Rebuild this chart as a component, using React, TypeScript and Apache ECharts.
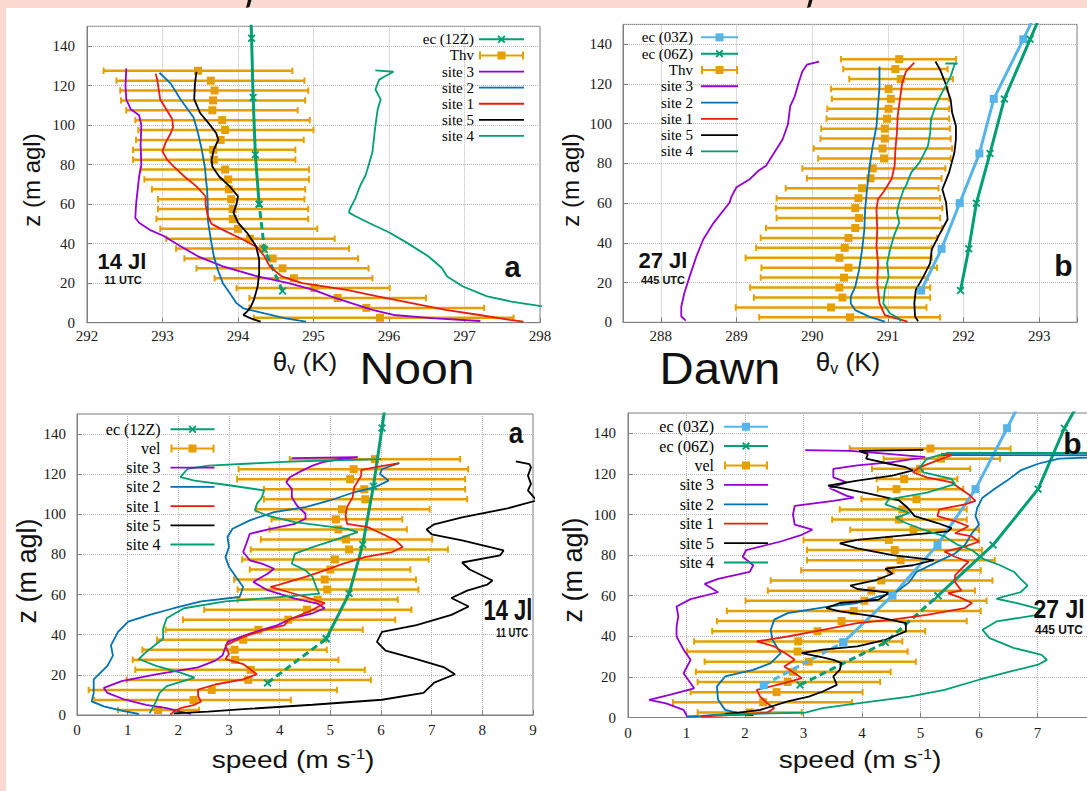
import React, { useEffect, useRef } from "react";
import * as echarts from "echarts";

// ---------------- DATA ----------------
// Each profile: [value, z (m agl)]
// Error-bar rows: [low, mean, high, z]

// Top-left: theta_v, noon (14 Jl)
const TL_EC12: [number, number][] = [[294.59, 16], [294.35, 37], [294.28, 60], [294.23, 85], [294.2, 114], [294.18, 144], [294.15, 177]];
const TL_THV: number[][] = [
  [292.22, 293.47, 294.72, 127.5], [292.39, 293.64, 294.88, 122.5], [292.44, 293.69, 294.93, 117.5],
  [292.45, 293.67, 294.89, 112.5], [292.52, 293.66, 294.79, 107.5], [292.64, 293.79, 294.95, 102.5],
  [292.68, 293.83, 295.0, 97.5], [292.65, 293.77, 294.87, 92.5], [292.61, 293.67, 294.76, 87.5],
  [292.61, 293.68, 294.76, 82.5], [292.71, 293.83, 294.94, 77.5], [292.76, 293.87, 294.94, 72.5],
  [292.86, 293.88, 294.89, 67.5], [292.94, 293.91, 294.88, 62.5], [292.94, 293.93, 294.93, 57.5],
  [292.92, 293.93, 294.93, 52.5], [292.97, 294.0, 295.05, 47.5], [293.05, 294.16, 295.28, 42.5],
  [293.18, 294.33, 295.47, 37.5], [293.29, 294.46, 295.59, 32.5], [293.45, 294.59, 295.73, 27.5],
  [293.69, 294.74, 295.78, 22.5], [293.98, 295.01, 296.01, 17.5], [294.15, 295.32, 296.49, 12.5],
  [294.15, 295.7, 297.26, 7.5], [294.21, 295.88, 297.65, 2.5],
];
const TL_SITE3: [number, number][] = [[292.52, 128.7], [292.51, 120], [292.52, 113], [292.58, 108], [292.69, 105], [292.72, 100], [292.71, 90], [292.72, 80], [292.69, 74], [292.67, 67], [292.65, 60], [292.64, 53], [292.69, 50.6], [292.83, 47], [293.01, 44], [293.24, 38.7], [293.47, 33.6], [293.8, 28.5], [294.26, 23.4], [294.67, 20], [295.0, 16.6], [295.23, 13.3], [295.5, 9.9], [295.78, 6.5], [296.06, 3.9], [296.61, 2.2], [297.21, 0.85]];
const TL_SITE2: [number, number][] = [[292.96, 126.5], [293.11, 121], [293.24, 113], [293.41, 104], [293.47, 96], [293.52, 87.6], [293.56, 79], [293.58, 71], [293.59, 67.6], [293.6, 60], [293.6, 52], [293.64, 42], [293.68, 33.6], [293.73, 27], [293.8, 20], [293.89, 15], [293.98, 9.9], [294.07, 7.3], [294.35, 4.7], [294.63, 2.2], [294.9, 0.5]];
const TL_SITE1: [number, number][] = [[292.91, 126], [292.93, 123], [292.97, 113], [293.05, 108], [293.13, 103], [293.14, 99], [293.11, 96], [293.04, 91], [293.0, 86.7], [293.06, 82.5], [293.15, 79], [293.29, 74], [293.45, 69], [293.57, 64], [293.57, 60], [293.6, 54], [293.65, 50], [293.8, 47], [294.07, 42], [294.26, 38], [294.35, 33.6], [294.42, 28.5], [294.58, 23.4], [294.85, 20], [295.44, 16.6], [295.85, 13.3], [296.3, 9.9], [296.75, 6.5], [297.2, 3.9], [297.6, 1.4], [297.78, 0.5]];
const TL_SITE5: [number, number][] = [[293.45, 127], [293.43, 121], [293.42, 113], [293.5, 106], [293.61, 101], [293.71, 96], [293.74, 92.6], [293.68, 87.6], [293.65, 82.5], [293.66, 79], [293.75, 74], [293.89, 69], [294.0, 64], [293.98, 60], [293.94, 55.7], [294.0, 50.6], [294.12, 45.5], [294.24, 38.7], [294.28, 32], [294.28, 25], [294.26, 18.3], [294.21, 11.5], [294.17, 8.1], [294.12, 5.6], [294.07, 3.9], [294.17, 2.2], [294.3, 0.5]];
const TL_SITE4: [number, number][] = [[295.82, 127.7], [296.06, 127], [295.96, 125], [295.87, 123], [295.82, 118], [295.89, 113], [295.85, 108], [295.82, 99.7], [295.78, 86.3], [295.73, 79.7], [295.69, 74.6], [295.62, 69.5], [295.55, 62.5], [295.48, 57.4], [295.47, 55.7], [295.55, 54], [295.73, 50.6], [296.01, 45.5], [296.24, 40.4], [296.52, 33.6], [296.7, 27.7], [296.77, 23.4], [296.98, 18.3], [297.3, 13.3], [297.62, 10.7], [297.99, 8.5], [298.4, 7.0]];

// Top-right: theta_v, dawn (27 Jl)
const TR_EC03: [number, number][] = [[291.44, 16], [291.71, 37], [291.95, 60], [292.21, 85], [292.4, 112.5], [292.79, 142.5], [293.2, 175]];
const TR_EC06: [number, number][] = [[291.96, 16], [292.07, 37], [292.17, 60], [292.35, 85], [292.54, 112.5], [292.88, 142.5], [293.25, 175]];
const TR_THV: number[][] = [
  [290.38, 291.15, 291.9, 132.5], [290.41, 291.1, 291.79, 127.5], [290.49, 291.17, 291.86, 122.5],
  [290.25, 291.01, 291.79, 117.5], [290.26, 291.04, 291.81, 112.5], [290.2, 291.01, 291.81, 107.5],
  [290.19, 290.99, 291.81, 102.5], [290.12, 290.96, 291.82, 97.5], [290.11, 290.96, 291.83, 92.5],
  [290.02, 290.93, 291.85, 87.5], [290.08, 290.95, 291.83, 82.5], [289.87, 290.8, 291.76, 77.5],
  [289.93, 290.77, 291.71, 72.5], [289.65, 290.66, 291.67, 67.5], [289.53, 290.61, 291.69, 62.5],
  [289.52, 290.57, 291.72, 57.5], [289.53, 290.62, 291.69, 52.5], [289.39, 290.57, 291.72, 47.5],
  [289.32, 290.48, 291.65, 42.5], [289.26, 290.43, 291.58, 37.5], [289.12, 290.36, 291.58, 32.5],
  [289.33, 290.48, 291.65, 27.5], [289.32, 290.42, 291.53, 22.5], [289.18, 290.36, 291.56, 17.5],
  [289.23, 290.4, 291.56, 12.5], [288.99, 290.25, 291.51, 7.5], [289.3, 290.5, 291.69, 2.5],
];
const TR_SITE3: [number, number][] = [[290.09, 131.3], [289.93, 129.7], [289.87, 126.3], [289.82, 120.5], [289.77, 113.8], [289.71, 108.8], [289.68, 99.7], [289.61, 92.2], [289.5, 85.5], [289.39, 78.8], [289.29, 76.3], [289.18, 72.2], [289.0, 68], [288.93, 63], [288.91, 60.3], [288.7, 50.2], [288.56, 41.7], [288.47, 33.2], [288.38, 23], [288.31, 14.6], [288.27, 7.8], [288.27, 2.9], [288.33, 0.85]];
const TR_SITE2: [number, number][] = [[290.89, 128.8], [290.89, 118.8], [290.87, 108.8], [290.85, 98.8], [290.8, 88.8], [290.76, 78.8], [290.73, 68.8], [290.7, 57], [290.69, 46.8], [290.66, 36.6], [290.62, 26.4], [290.57, 18], [290.51, 12.9], [290.51, 9.5], [290.57, 6.1], [290.76, 2.7], [290.96, 0.3]];
const TR_SITE1: [number, number][] = [[291.35, 130.8], [291.24, 126.3], [291.19, 120.5], [291.16, 112.2], [291.13, 103.8], [291.12, 95.5], [291.1, 87.2], [291.09, 78.8], [291.05, 72.2], [290.94, 65.5], [290.87, 62], [290.85, 57], [290.86, 46.8], [290.85, 38.3], [290.87, 29.8], [290.86, 19.7], [290.89, 9.5], [290.96, 3.6], [291.12, 1.9], [291.26, 0.3]];
const TR_SITE5: [number, number][] = [[291.63, 131.3], [291.69, 127.2], [291.76, 120.5], [291.8, 115.5], [291.83, 112.2], [291.85, 105.5], [291.9, 98.8], [291.9, 92.2], [291.88, 85.5], [291.81, 75.5], [291.74, 68.8], [291.72, 67], [291.77, 60.3], [291.79, 51.9], [291.67, 43.4], [291.58, 36.6], [291.56, 29.8], [291.47, 23], [291.37, 16.3], [291.35, 9.5], [291.36, 2.9], [291.4, 0.5]];
const TR_SITE4: [number, number][] = [[291.76, 130.3], [291.92, 130.3], [291.88, 129.7], [291.83, 123.8], [291.76, 118.8], [291.69, 113.8], [291.63, 108.8], [291.57, 102.2], [291.56, 95.5], [291.53, 88.8], [291.42, 80.5], [291.31, 75.5], [291.24, 68.8], [291.21, 67], [291.15, 60.3], [291.12, 55.3], [291.15, 50.2], [291.08, 43.4], [291.03, 36.6], [290.99, 29.8], [291.01, 23], [290.96, 16.3], [290.94, 9.5], [291.03, 4.4], [291.15, 1.9], [291.17, 0.5]];

// Bottom-left: wind speed, noon
const BL_EC12: [number, number][] = [[3.76, 16], [4.92, 38], [5.37, 60.5], [5.64, 85], [5.85, 114], [6.02, 143], [6.2, 175]];
const BL_VEL: number[][] = [
  [4.2, 5.88, 7.56, 127.5], [3.19, 5.46, 7.72, 122.5], [3.16, 5.39, 7.66, 117.5], [3.69, 5.67, 7.66, 112.5],
  [3.69, 5.69, 7.7, 107.5], [3.54, 5.23, 6.96, 102.5], [3.84, 5.11, 6.42, 97.5], [3.8, 5.16, 6.51, 92.5],
  [3.63, 5.31, 7.01, 87.5], [3.43, 5.37, 7.32, 82.5], [3.26, 5.09, 6.94, 77.5], [3.41, 5.0, 6.58, 72.5],
  [3.1, 4.89, 6.69, 67.5], [3.17, 4.94, 6.74, 62.5], [3.17, 4.75, 6.33, 57.5], [2.51, 4.54, 6.6, 52.5],
  [2.09, 4.17, 6.28, 47.5], [1.75, 3.58, 5.64, 42.5], [1.58, 3.28, 4.92, 37.5], [1.29, 3.11, 4.93, 32.5],
  [1.1, 3.12, 5.16, 27.5], [1.15, 3.43, 5.68, 22.5], [0.98, 3.38, 5.8, 17.5], [0.23, 2.66, 5.13, 12.5],
  [0.34, 2.3, 4.22, 7.5], [0.81, 1.6, 2.41, 2.5],
];
const BL_SITE3: [number, number][] = [[4.24, 128], [5.54, 128.5], [5.2, 127.5], [4.85, 126], [4.65, 124.3], [4.44, 121.8], [4.2, 118.5], [4.13, 116], [4.24, 112.7], [4.24, 108.5], [4.34, 104.4], [4.51, 100.3], [4.51, 97.8], [4.3, 95.3], [3.82, 92.8], [3.41, 90.3], [3.34, 85.3], [3.28, 81.2], [3.41, 77.1], [3.65, 75.4], [3.89, 72.9], [3.76, 70.4], [3.48, 66.3], [3.76, 62.2], [4.3, 58], [4.75, 55.5], [4.89, 53.2], [4.65, 50.7], [4.24, 48.2], [3.96, 44.8], [3.41, 40.6], [2.97, 36.4], [2.87, 29.6], [2.73, 27.1], [2.39, 23.7], [1.56, 20.3], [0.88, 16.9], [0.53, 13.5], [0.6, 11], [0.95, 7.6], [1.36, 5.1], [1.77, 3.4], [2.04, 1.7], [2.25, 0.5]];
const BL_SITE2: [number, number][] = [[6.36, 125.5], [6.02, 122.6], [5.98, 120.1], [6.15, 116.8], [5.88, 113.5], [5.47, 111], [4.99, 106.9], [4.51, 103.6], [3.89, 101.1], [3.41, 97], [3.07, 92.8], [2.97, 88.7], [3.0, 83.7], [2.93, 78.7], [3.0, 73.8], [3.14, 68.8], [3.28, 63.8], [3.21, 58.8], [2.45, 56.6], [1.91, 53.2], [1.43, 49.9], [1.01, 46.5], [0.81, 41.4], [0.67, 34.7], [0.71, 29.6], [0.6, 24.5], [0.33, 17.8], [0.33, 11], [0.29, 6.8], [0.53, 4.3], [0.88, 2.2], [1.22, 0.5]];
const BL_SITE1: [number, number][] = [[6.36, 125.5], [5.9, 123.5], [5.61, 122], [5.61, 119.3], [5.47, 113.5], [5.44, 108.5], [5.33, 103.6], [5.3, 99.4], [5.33, 95.3], [5.74, 93.6], [6.02, 90.3], [6.29, 87], [6.43, 83.7], [6.22, 81.2], [5.68, 78.7], [5.26, 75.4], [4.99, 72.9], [4.51, 68.8], [3.96, 64.7], [3.82, 63.8], [4.17, 61.3], [4.51, 58.8], [4.89, 55.8], [4.65, 52.4], [4.17, 47.3], [4.1, 44.8], [3.69, 42.3], [3.28, 38.9], [2.93, 34.7], [3.0, 30.4], [2.93, 27.9], [3.28, 25.4], [3.55, 20.3], [3.28, 17.8], [2.73, 15.2], [2.39, 12.7], [2.39, 9.3], [2.45, 6.8], [2.32, 5.1], [2.04, 3.4], [1.91, 1.7], [1.84, 0.2]];
const BL_SITE5: [number, number][] = [[8.66, 126.4], [8.93, 125], [8.96, 123.4], [8.9, 119.3], [8.96, 115.2], [8.9, 111.9], [9.07, 106.9], [8.5, 103], [7.6, 98.5], [7.05, 95], [6.9, 92.5], [7.0, 90], [7.6, 87], [8.42, 82], [8.35, 79.5], [7.6, 76], [7.75, 72.5], [8.2, 67], [8.1, 65], [7.7, 62], [7.39, 58.3], [7.73, 54.1], [7.39, 49.9], [6.7, 44.8], [6.02, 41.4], [5.92, 36.4], [6.09, 32.1], [6.7, 27.9], [7.25, 23.7], [7.46, 20.3], [7.05, 16.1], [6.84, 11], [6.02, 7.6], [4.65, 5.1], [3.28, 2.9], [2.59, 1.7], [1.91, 0.8]];
const BL_SITE4: [number, number][] = [[6.0, 127.5], [4.2, 126.3], [2.6, 124.3], [2.18, 122.6], [2.04, 118.5], [2.32, 116.8], [3.0, 114.5], [3.69, 111.9], [3.65, 108.5], [3.55, 105.2], [3.51, 101.9], [3.76, 99.4], [4.3, 96.1], [5.33, 92.8], [5.54, 91.1], [5.06, 87], [4.65, 83.7], [4.3, 80.4], [4.24, 75.4], [4.51, 72.1], [4.65, 68.8], [4.72, 63.8], [4.78, 60.5], [4.24, 59.2], [2.93, 56.6], [2.11, 53.2], [1.77, 48.2], [1.7, 43.1], [1.7, 38], [1.36, 31.3], [1.22, 27.9], [1.56, 24.5], [2.04, 21.1], [2.32, 18.6], [1.77, 14.4], [1.63, 11], [1.56, 6.8], [1.49, 3.4], [1.43, 0.8]];

// Bottom-right: wind speed, dawn
const BR_EC03: [number, number][] = [[2.32, 16], [3.68, 37], [4.52, 60], [5.29, 85], [5.94, 112.5], [6.48, 142.5], [7.05, 175]];
const BR_EC06: [number, number][] = [[2.94, 16], [4.4, 37], [5.3, 60], [6.24, 85], [7.01, 112.5], [7.46, 142.5], [8.1, 175]];
const BR_VEL: number[][] = [
  [3.79, 5.17, 6.54, 132.5], [4.37, 5.35, 6.36, 127.5], [4.17, 4.99, 5.85, 122.5], [4.25, 4.72, 5.63, 117.5],
  [4.27, 4.59, 5.73, 112.5], [3.99, 4.93, 5.85, 107.5], [3.62, 4.69, 5.79, 102.5], [3.49, 4.63, 5.79, 97.5],
  [3.8, 4.88, 6.0, 92.5], [3.0, 4.46, 6.0, 87.5], [3.06, 4.56, 6.05, 82.5], [3.06, 4.66, 6.27, 77.5],
  [2.96, 4.49, 6.03, 72.5], [2.44, 4.33, 6.23, 67.5], [2.39, 4.16, 5.93, 62.5], [2.01, 4.04, 6.13, 57.5],
  [1.69, 3.86, 6.03, 52.5], [1.52, 3.65, 5.79, 47.5], [1.44, 3.24, 5.08, 42.5], [1.13, 2.91, 4.69, 37.5],
  [1.01, 2.9, 4.78, 32.5], [1.31, 3.09, 4.92, 27.5], [1.16, 2.82, 4.49, 22.5], [1.19, 2.73, 4.31, 17.5],
  [1.07, 2.54, 4.01, 12.5], [0.77, 2.31, 3.83, 7.5], [1.19, 2.08, 2.97, 2.5],
];
const BR_SITE3: [number, number][] = [[3.03, 131.7], [3.8, 131.3], [4.4, 130], [5.08, 128.3], [4.52, 125.8], [3.92, 124.2], [3.51, 122.5], [3.51, 118.3], [3.74, 115.8], [3.45, 113], [3.74, 109.2], [3.86, 108.3], [3.51, 106.7], [2.85, 104.2], [2.82, 100], [2.85, 95], [3.15, 92.5], [2.97, 90], [2.61, 86.7], [2.02, 82.5], [1.96, 79.2], [2.14, 75], [2.08, 71.7], [1.54, 68.3], [1.31, 65.8], [1.54, 61.7], [1.07, 58.3], [0.83, 54.7], [0.86, 49.8], [0.83, 44.9], [0.83, 39.9], [0.95, 33.4], [1.07, 28.4], [0.95, 21.8], [1.07, 16.9], [1.13, 14.4], [0.71, 11.2], [0.36, 8.7], [0.65, 7], [0.95, 3.8], [1.01, 0.5]];
const BR_SITE2: [number, number][] = [[5.35, 129.3], [9.5, 129.1], [7.6, 127.8], [7.37, 127.5], [7.01, 125], [6.71, 121.7], [6.48, 116.7], [6.3, 113.3], [6.06, 108.3], [5.97, 103.3], [5.94, 99.2], [6.0, 95], [5.88, 90.8], [5.76, 85], [5.59, 80.8], [5.35, 77.5], [5.11, 74.2], [4.93, 71.7], [4.81, 66.7], [4.58, 61.7], [4.28, 59.5], [3.92, 56.4], [3.45, 54.7], [2.73, 51.4], [2.5, 48.2], [2.44, 43.2], [2.47, 38.3], [2.61, 31.7], [2.44, 26.8], [2.14, 23.5], [1.66, 20.2], [1.52, 15.3], [1.54, 8.7], [1.66, 3.75], [1.9, 2.1], [1.25, 0.8], [1.01, 0.5]];
const BR_SITE1: [number, number][] = [[5.35, 130], [5.53, 129.2], [5.29, 126.7], [4.99, 123.3], [4.87, 120.8], [5.11, 118.3], [5.53, 115.8], [5.82, 110], [5.94, 106.7], [5.76, 105], [5.32, 102.5], [5.29, 99.2], [5.59, 96.7], [5.82, 94.2], [5.59, 90.8], [5.88, 89.2], [6.0, 86.7], [5.76, 84.2], [5.41, 81.7], [5.59, 79.2], [5.82, 76.7], [5.7, 73.3], [5.59, 70], [5.59, 66.7], [5.7, 62.5], [5.47, 61.3], [5.7, 58.8], [5.88, 56.4], [5.76, 53.9], [5.11, 50.6], [4.52, 48.2], [3.92, 46.5], [3.33, 43.2], [2.73, 39.9], [2.2, 37.5], [2.5, 35], [2.73, 30.9], [2.85, 28.4], [2.67, 25.1], [2.85, 21.8], [2.97, 19.4], [2.67, 16.9], [2.2, 13.6], [2.26, 10.3], [2.38, 7], [2.5, 4.6], [2.38, 2.4], [1.84, 1.3], [1.25, 0.5]];
const BR_SITE5: [number, number][] = [[5.05, 131.8], [3.95, 131.3], [4.1, 129.7], [4.07, 127.5], [4.46, 125], [4.75, 123.3], [4.87, 121.7], [4.52, 119.2], [3.92, 116.7], [3.42, 114.2], [3.74, 112.5], [4.16, 110], [4.63, 107], [4.78, 103.3], [4.9, 99.2], [5.29, 95.8], [5.53, 93.3], [5.47, 91.7], [4.81, 90], [3.92, 87.5], [3.62, 85.8], [3.92, 83.3], [4.52, 80], [5.23, 77.5], [4.87, 75], [4.4, 73.3], [4.52, 70.8], [4.22, 67.5], [3.8, 65], [3.92, 63.3], [4.46, 61.5], [4.28, 58], [3.62, 56.4], [3.39, 53.9], [3.62, 52.3], [4.22, 49.8], [4.75, 46.5], [4.75, 42.4], [4.4, 38.3], [3.92, 35], [3.33, 33.4], [2.97, 31.7], [3.27, 30], [3.51, 28.4], [3.65, 26.8], [3.62, 23.5], [3.51, 20.2], [3.57, 16.1], [3.33, 12.8], [3.09, 10.3], [2.73, 7.9], [2.26, 3.75], [1.9, 2.4], [1.66, 1.8], [2.14, 1.3]];
const BR_SITE4: [number, number][] = [[5.45, 130.4], [9.5, 130.3], [5.45, 130.2], [5.11, 127.5], [4.99, 123.3], [5.05, 120.8], [5.53, 117.5], [5.59, 115], [5.11, 110.8], [4.46, 107.5], [4.4, 105], [4.81, 100.8], [4.58, 98.3], [4.75, 95.8], [5.05, 92.5], [5.41, 89.2], [5.64, 85], [5.88, 82.5], [6.06, 78.3], [6.36, 75], [6.6, 71.7], [6.71, 68.3], [6.83, 65], [6.71, 61.7], [6.42, 59.5], [6.3, 58.5], [6.65, 56.4], [7.07, 53.1], [7.01, 50.6], [6.3, 47.3], [6.06, 43.2], [6.18, 39.1], [6.6, 34.2], [7.07, 30.9], [7.16, 28.4], [7.01, 26], [6.54, 22.7], [6.0, 18.6], [5.41, 13.6], [4.81, 10.3], [3.92, 7], [3.33, 4.6], [3.03, 2.4], [2.14, 1.8], [1.43, 1.2]];

const SITE_NAMES = ["site 3", "site 2", "site 1", "site 5", "site 4"];
const Y_TICKS_MAX = 150;

// ---------------- STYLE ----------------
const SERIF = '"Liberation Serif", "DejaVu Serif", serif';
const SANS = '"Liberation Sans", Arial, sans-serif';
const C = {
  purple: "#9400d3", blue: "#0072b2", red: "#e51e10", black: "#000000",
  green: "#009e73", orange: "#e69f00", sky: "#56b4e9",
};
const SITE_COLORS = [C.purple, C.blue, C.red, C.black, C.green];
const AXIS_GRAY = "#808080";
const GRID_GRAY = "#b8b8b8";
const PINK = "#fcd9d0";
const XSYM = "path://M0,1.6L1.6,0L5,3.4L8.4,0L10,1.6L6.6,5L10,8.4L8.4,10L5,6.6L1.6,10L0,8.4L3.4,5Z";

type Panel = {
  grid: { left: number; top: number; width: number; height: number };
  xmin: number; xmax: number; xInterval?: number; xSplit?: number; hideMaxX?: boolean;
  yMargin: number; xMargin: number;
  ec: { name: string; data: [number, number][]; color: string; symbol: string; dash: number }[];
  err: { name: string; rows: number[][] };
  sites: [number, number][][];
  legend: { right: number; top: number; itemWidth: number; fontSize: number; lineHeight: number; gap: number };
};

const PANELS: Panel[] = [
  {
    grid: { left: 87, top: 26.3, width: 453, height: 296.4 },
    xmin: 292, xmax: 298, xInterval: 1, yMargin: 12, xMargin: 6,
    ec: [{ name: "ec (12Z)", data: TL_EC12, color: C.green, symbol: XSYM, dash: 3 }],
    err: { name: "Thv", rows: TL_THV },
    sites: [TL_SITE3, TL_SITE2, TL_SITE1, TL_SITE5, TL_SITE4],
    legend: { right: 562, top: 31.3, itemWidth: 45, fontSize: 15, lineHeight: 16.1, gap: 0 },
  },
  {
    grid: { left: 623, top: 24.4, width: 454, height: 297.9 },
    xmin: 287.5, xmax: 293.5, xSplit: 6, yMargin: 11, xMargin: 6,
    ec: [
      { name: "ec (03Z)", data: TR_EC03, color: C.sky, symbol: "rect", dash: 0 },
      { name: "ec (06Z)", data: TR_EC06, color: C.green, symbol: XSYM, dash: 0 },
    ],
    err: { name: "Thv", rows: TR_THV },
    sites: [TR_SITE3, TR_SITE2, TR_SITE1, TR_SITE5, TR_SITE4],
    legend: { right: 348, top: 29.2, itemWidth: 37, fontSize: 15, lineHeight: 16.3, gap: 3 },
  },
  {
    grid: { left: 77, top: 414, width: 456, height: 301 },
    xmin: 0, xmax: 9, xInterval: 1, yMargin: 11, xMargin: 7.5,
    ec: [{ name: "ec (12Z)", data: BL_EC12, color: C.green, symbol: XSYM, dash: 2 }],
    err: { name: "vel", rows: BL_VEL },
    sites: [BL_SITE3, BL_SITE2, BL_SITE1, BL_SITE5, BL_SITE4],
    legend: { right: 871.5, top: 419.7, itemWidth: 44, fontSize: 16, lineHeight: 19.2, gap: 5 },
  },
  {
    grid: { left: 628, top: 413, width: 468, height: 304.5 },
    xmin: 0, xmax: 8, xInterval: 1, hideMaxX: true, yMargin: 12, xMargin: 8,
    ec: [
      { name: "ec (03Z)", data: BR_EC03, color: C.sky, symbol: "rect", dash: 2 },
      { name: "ec (06Z)", data: BR_EC06, color: C.green, symbol: XSYM, dash: 3 },
    ],
    err: { name: "vel", rows: BR_VEL },
    sites: [BR_SITE3, BR_SITE2, BR_SITE1, BR_SITE5, BR_SITE4],
    legend: { right: 318, top: 417, itemWidth: 44, fontSize: 16, lineHeight: 19.4, gap: 5 },
  },
];

function iBeam(w: number) {
  const h = w / 2;
  return `path://M0,1H2V9H0Z M${w - 2},1H${w}V9H${w - 2}Z M0,4H${w}V6H0Z M${h - 4},1H${h + 4}V9H${h - 4}Z`;
}
function lineIcon(w: number) {
  return `path://M0,0H${w}V1.8H0Z`;
}

function errRender(params: any, api: any) {
  const z = api.value(3);
  const lo = api.coord([api.value(0), z]);
  const mid = api.coord([api.value(1), z]);
  const hi = api.coord([api.value(2), z]);
  const col = C.orange;
  const cap = 3.2;
  const sq = 8;
  return {
    type: "group",
    children: [
      { type: "line", shape: { x1: lo[0], y1: lo[1], x2: hi[0], y2: hi[1] }, style: { stroke: col, lineWidth: 2.5 } },
      { type: "line", shape: { x1: lo[0], y1: lo[1] - cap, x2: lo[0], y2: lo[1] + cap }, style: { stroke: col, lineWidth: 2 } },
      { type: "line", shape: { x1: hi[0], y1: hi[1] - cap, x2: hi[0], y2: hi[1] + cap }, style: { stroke: col, lineWidth: 2 } },
      { type: "rect", shape: { x: mid[0] - sq / 2, y: mid[1] - sq / 2, width: sq, height: sq }, style: { fill: col } },
    ],
  };
}

function buildOption() {
  const grid: any[] = [];
  const xAxis: any[] = [];
  const yAxis: any[] = [];
  const series: any[] = [];
  const legend: any[] = [];

  PANELS.forEach((p, gi) => {
    grid.push({ ...p.grid, show: true, borderColor: AXIS_GRAY, borderWidth: 1, containLabel: false, outerBoundsMode: "none" });
    const axisCommon = {
      axisLine: { show: true, onZero: false, lineStyle: { color: AXIS_GRAY, width: 1 } },
      axisTick: { show: true, inside: true, length: 5, lineStyle: { color: AXIS_GRAY } },
      splitLine: { show: true, lineStyle: { color: GRID_GRAY, type: "dotted", width: 1 } },
    };
    const xa: any = {
      type: "value", gridIndex: gi, min: p.xmin, max: p.xmax, ...axisCommon,
      axisLabel: {
        fontFamily: SERIF, fontSize: 15, color: "#1a1a1a", margin: p.xMargin,
        showMaxLabel: p.hideMaxX ? false : true,
        formatter: (v: number) => (Math.abs(v - Math.round(v)) < 1e-6 ? String(Math.round(v)) : ""),
      },
    };
    if (p.xInterval) xa.interval = p.xInterval;
    if (p.xSplit) xa.splitNumber = p.xSplit;
    xAxis.push(xa);
    yAxis.push({
      type: "value", gridIndex: gi, min: 0, max: Y_TICKS_MAX, interval: 20, ...axisCommon,
      axisLabel: { fontFamily: SERIF, fontSize: 15, color: "#1a1a1a", margin: p.yMargin, showMaxLabel: false },
    });

    // ec model lines
    p.ec.forEach((e) => {
      const solid = e.dash > 0 ? e.data.slice(e.dash - 1) : e.data;
      const common = {
        type: "line", name: e.name, xAxisIndex: gi, yAxisIndex: gi, symbol: e.symbol, symbolSize: 8,
        showSymbol: true, clip: true, silent: true, smooth: false,
        itemStyle: { color: e.color, borderWidth: 0 },
      };
      series.push({ ...common, data: solid, lineStyle: { color: e.color, width: 3 } });
      if (e.dash > 1) {
        series.push({ ...common, data: e.data.slice(0, e.dash), lineStyle: { color: e.color, width: 3, type: [7, 4] } });
      }
    });

    // error bars
    series.push({
      type: "custom", name: p.err.name, xAxisIndex: gi, yAxisIndex: gi, data: p.err.rows,
      encode: { x: [0, 1, 2], y: 3 }, itemStyle: { color: C.orange }, renderItem: errRender, silent: true,
    });

    // site profiles
    p.sites.forEach((d, i) => {
      series.push({
        type: "line", name: SITE_NAMES[i], data: d, xAxisIndex: gi, yAxisIndex: gi,
        symbol: "none", showSymbol: false, clip: true, silent: true, smooth: false,
        lineStyle: { color: SITE_COLORS[i], width: 1.8 }, itemStyle: { color: SITE_COLORS[i] },
      });
    });

    const L = p.legend;
    const names = [...p.ec.map((e) => e.name), p.err.name, ...SITE_NAMES];
    legend.push({
      show: true, orient: "vertical", align: "right", right: L.right, top: L.top,
      itemWidth: L.itemWidth, itemHeight: 10, itemGap: 0, padding: 0, selectedMode: false,
      textStyle: { fontFamily: SERIF, fontSize: L.fontSize, color: "#000", lineHeight: L.lineHeight, padding: [0, L.gap, 0, 0] },
      data: names.map((n) =>
        n.startsWith("site") ? { name: n, icon: lineIcon(L.itemWidth) }
          : n === "Thv" || n === "vel" ? { name: n, icon: iBeam(L.itemWidth) }
          : { name: n }
      ),
    });
  });

  const txt = (text: string, x: number, y: number, size: number, opts: any = {}) => ({
    type: "text", x, y, z: 20, rotation: opts.rotation || 0, scaleX: opts.scaleX || 1, scaleY: opts.scaleY || 1,
    style: {
      text, x: 0, y: 0, fill: "#111", fontFamily: SANS, fontSize: size, fontWeight: opts.bold ? "bold" : "normal",
      align: "center", verticalAlign: "middle", rich: opts.rich, lineHeight: opts.lineHeight,
    },
  });
  const thRich = {
    a: { fontSize: 26, fontFamily: SANS, fill: "#111", lineHeight: 28 },
    s: { fontSize: 16, fontFamily: SANS, fill: "#111", verticalAlign: "bottom", lineHeight: 28 },
  };
  const spRich = {
    a: { fontSize: 24, fontFamily: SANS, fill: "#111", lineHeight: 26 },
    p: { fontSize: 14, fontFamily: SANS, fill: "#111", verticalAlign: "top", lineHeight: 26 },
  };

  const graphic = {
    elements: [
      { type: "rect", z: -10, silent: true, shape: { x: 0, y: 0, width: 1087, height: 8 }, style: { fill: PINK } },
      { type: "rect", z: -10, silent: true, shape: { x: 0, y: 0, width: 6, height: 791 }, style: { fill: PINK } },
      { type: "polygon", z: 20, shape: { points: [[248, 0], [251.5, 0], [249.5, 7], [246, 8]] }, style: { fill: "#111" } },
      { type: "polygon", z: 20, shape: { points: [[809, 0], [812.5, 0], [810.5, 7], [807, 8]] }, style: { fill: "#111" } },
      txt("z (m agl)", 31, 180, 24, { rotation: Math.PI / 2 }),
      txt("z (m agl)", 570, 180, 24, { rotation: Math.PI / 2 }),
      txt("z (m agl)", 27, 571, 27, { rotation: Math.PI / 2 }),
      txt("z (m agl)", 573, 570, 27, { rotation: Math.PI / 2 }),
      txt("{a|θ}{s|v}{a| (K)}", 305, 362, 26, { rich: thRich }),
      txt("{a|θ}{s|v}{a| (K)}", 848, 362, 26, { rich: thRich }),
      txt("Noon", 417, 369, 45, { lineHeight: 34, scaleX: 1.07 }),
      txt("Dawn", 720, 368, 45, { lineHeight: 34, scaleX: 1.05 }),
      txt("{a|speed (m s}{p|-1}{a|)}", 293, 760, 24, { rich: spRich, scaleX: 1.17 }),
      txt("{a|speed (m s}{p|-1}{a|)}", 860, 760, 24, { rich: spRich, scaleX: 1.17 }),
      txt("14 Jl", 122, 261, 22, { bold: true }),
      txt("11 UTC", 123, 280, 11, { bold: true }),
      txt("27 Jl", 663, 260, 22, { bold: true }),
      txt("445 UTC", 663, 280, 11, { bold: true }),
      txt("14 Jl", 508, 610, 22, { bold: true, scaleY: 1.35 }),
      txt("11 UTC", 512, 633, 9.5, { bold: true, scaleY: 1.3 }),
      txt("27 Jl", 1059, 609, 23, { bold: true, scaleY: 1.1 }),
      txt("445 UTC", 1059, 630, 12, { bold: true, scaleY: 1.1 }),
      txt("a", 512.5, 267, 29, { bold: true }),
      txt("b", 1063.5, 265, 30, { bold: true }),
      txt("a", 516, 433, 26, { bold: true, scaleY: 1.15 }),
      txt("b", 1072.5, 443, 30, { bold: true }),
    ],
  };

  return {
    animation: false,
    backgroundColor: "#ffffff",
    grid, xAxis, yAxis, series, legend, graphic,
  };
}

export default function App() {
  const ref = useRef<HTMLDivElement>(null);
  useEffect(() => {
    if (!ref.current) return;
    const chart = echarts.init(ref.current, undefined, { renderer: "svg" });
    chart.setOption(buildOption() as any);
    return () => chart.dispose();
  }, []);
  return (
    <div
      ref={ref}
      style={{ position: "fixed", left: 0, top: 0, width: 1087, height: 791, background: "#fff" }}
    />
  );
}
